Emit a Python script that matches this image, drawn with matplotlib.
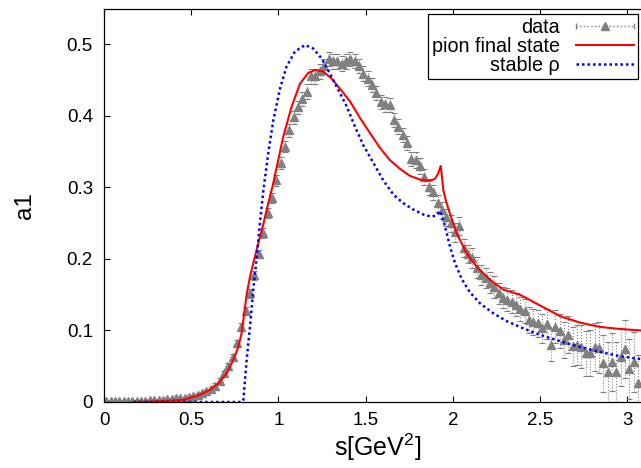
import matplotlib
matplotlib.use("Agg")
import matplotlib.pyplot as plt
from matplotlib.legend_handler import HandlerBase
from matplotlib.lines import Line2D
from matplotlib.ticker import FormatStrFormatter
import numpy as np

plt.rcParams.update({
    "font.family": ["Liberation Sans", "DejaVu Sans"],
    "mathtext.fontset": "custom",
    "mathtext.rm": "Liberation Sans",
    "mathtext.default": "regular",
    "xtick.direction": "in",
    "ytick.direction": "in",
    "xtick.top": True,
    "ytick.right": True,
})

GREY = "#808080"
RED = "#ff0000"
BLUE = "#0000ff"

# ---- measured spectral function (bins of 0.025 GeV^2) ----
s_data = np.arange(123) * 0.025 + 0.0125
a1_data = [
    0.002, 0.002, 0.002, 0.002, 0.002, 0.002, 0.002, 0.002, 0.002, 0.002,
    0.003, 0.003, 0.003, 0.003, 0.004, 0.004, 0.005, 0.005, 0.006, 0.007,
    0.008, 0.010, 0.012, 0.015, 0.018, 0.023, 0.030, 0.040, 0.051, 0.063,
    0.082, 0.105, 0.127, 0.152, 0.177, 0.207, 0.236, 0.264, 0.285, 0.310,
    0.334, 0.357, 0.380, 0.398, 0.412, 0.424, 0.434, 0.455, 0.455, 0.462,
    0.469, 0.479, 0.476, 0.476, 0.473, 0.476, 0.479, 0.477, 0.470, 0.459,
    0.452, 0.443, 0.432, 0.419, 0.416, 0.415, 0.394, 0.385, 0.373, 0.362,
    0.340, 0.338, 0.330, 0.315, 0.301, 0.293, 0.278, 0.268, 0.258, 0.250,
    0.237, 0.246, 0.215, 0.207, 0.201, 0.188, 0.178, 0.173, 0.167, 0.161,
    0.152, 0.146, 0.143, 0.140, 0.136, 0.130, 0.127, 0.115, 0.112, 0.110,
    0.103, 0.109, 0.080, 0.105, 0.099, 0.087, 0.094, 0.078, 0.080, 0.077,
    0.068, 0.069, 0.077, 0.076, 0.054, 0.042, 0.056, 0.042, 0.063, 0.074,
    0.046, 0.056, 0.026,
]
a1_err = [
    0.001, 0.001, 0.001, 0.001, 0.001, 0.001, 0.001, 0.001, 0.001, 0.001,
    0.001, 0.001, 0.001, 0.001, 0.001, 0.001, 0.001, 0.001, 0.001, 0.001,
    0.002, 0.002, 0.002, 0.002, 0.003, 0.003, 0.003, 0.004, 0.004, 0.004,
    0.005, 0.005, 0.006, 0.006, 0.006, 0.006, 0.007, 0.007, 0.007, 0.008,
    0.008, 0.008, 0.009, 0.009, 0.009, 0.010, 0.010, 0.010, 0.010, 0.010,
    0.010, 0.010, 0.010, 0.010, 0.010, 0.010, 0.010, 0.010, 0.010, 0.010,
    0.010, 0.010, 0.010, 0.010, 0.010, 0.010, 0.010, 0.010, 0.010, 0.010,
    0.010, 0.011, 0.011, 0.011, 0.011, 0.011, 0.012, 0.012, 0.012, 0.012,
    0.013, 0.013, 0.013, 0.013, 0.014, 0.014, 0.014, 0.014, 0.015, 0.015,
    0.015, 0.015, 0.016, 0.016, 0.016, 0.017, 0.017, 0.018, 0.018, 0.019,
    0.020, 0.021, 0.022, 0.023, 0.024, 0.025, 0.026, 0.027, 0.028, 0.030,
    0.031, 0.032, 0.034, 0.036, 0.040, 0.042, 0.040, 0.042, 0.040, 0.040,
    0.042, 0.042, 0.040,
]

# ---- model: pion final state ----
s_pion = [
    0.17, 0.25, 0.35, 0.455, 0.55, 0.608, 0.656, 0.703, 0.742, 0.770,
    0.789, 0.803, 0.818, 0.837, 0.860, 0.885, 0.913, 0.942, 0.968, 1.028,
    1.076, 1.124, 1.171, 1.210, 1.257, 1.305, 1.353, 1.411, 1.468, 1.525,
    1.583, 1.640, 1.697, 1.755, 1.812, 1.869, 1.898, 1.915, 1.931, 1.946,
    1.961, 1.984, 2.022, 2.079, 2.137, 2.213, 2.290, 2.385, 2.500, 2.615,
    2.729, 2.844, 2.959, 3.079, 3.140,
]
a1_pion = [
    0.000, 0.0005, 0.0015, 0.003, 0.010, 0.017, 0.026, 0.040, 0.059, 0.077,
    0.096, 0.122, 0.150, 0.175, 0.198, 0.222, 0.248, 0.278, 0.303, 0.371,
    0.413, 0.445, 0.460, 0.464, 0.462, 0.452, 0.438, 0.420, 0.397, 0.376,
    0.355, 0.338, 0.326, 0.316, 0.311, 0.309, 0.312, 0.319, 0.330, 0.296,
    0.281, 0.263, 0.236, 0.208, 0.189, 0.171, 0.157, 0.150, 0.135, 0.120,
    0.111, 0.105, 0.102, 0.100, 0.099,
]

# ---- model: stable rho ----
s_rho = [
    0.17, 0.79, 0.799, 0.818, 0.837, 0.856, 0.876, 0.894, 0.913, 0.942,
    0.971, 1.009, 1.047, 1.095, 1.153, 1.200, 1.248, 1.296, 1.344, 1.392,
    1.439, 1.487, 1.545, 1.601, 1.659, 1.716, 1.774, 1.831, 1.879, 1.905,
    1.927, 1.946, 1.965, 1.984, 2.013, 2.051, 2.099, 2.156, 2.232, 2.309,
    2.404, 2.500, 2.615, 2.729, 2.844, 2.959, 3.079, 3.140,
]
a1_rho = [
    0.000, 0.000, 0.003, 0.059, 0.105, 0.157, 0.203, 0.250, 0.294, 0.348,
    0.394, 0.438, 0.469, 0.490, 0.499, 0.494, 0.480, 0.459, 0.436, 0.413,
    0.385, 0.359, 0.334, 0.310, 0.290, 0.278, 0.269, 0.262, 0.259, 0.261,
    0.267, 0.254, 0.236, 0.217, 0.194, 0.172, 0.153, 0.138, 0.124, 0.113,
    0.103, 0.094, 0.085, 0.077, 0.070, 0.064, 0.060, 0.058,
]

x_ticks = [0, 0.5, 1, 1.5, 2, 2.5, 3]
y_ticks = [0, 0.1, 0.2, 0.3, 0.4, 0.5]


class DataHandler(HandlerBase):
    """gnuplot-like key sample: dotted line, end caps, triangle in middle."""

    def create_artists(self, legend, orig, xd, yd, w, h, fs, trans):
        y = h / 2 - yd
        x0, x1 = -xd, -xd + w
        line = Line2D([x0, x1], [y, y], ls=":", lw=1.0, color=GREY,
                      transform=trans)
        caps = Line2D([x0, x1], [y, y], ls="none", marker="|", ms=5,
                      mew=1.0, color=GREY, transform=trans)
        tri = Line2D([(x0 + x1) / 2], [y], ls="none", marker="^", ms=5.5,
                     color=GREY, transform=trans)
        return [line, caps, tri]


fig = plt.figure(figsize=(6.41, 4.68), dpi=100)
xmax, ymax = 3.14, 0.55
ax = fig.add_axes([104 / 641, 66 / 468, xmax * 174.4 / 641, ymax * 715.4 / 468])

eb = ax.errorbar(s_data, a1_data, yerr=a1_err, fmt="^", color=GREY,
                 ms=5.5, mec=GREY, ecolor=GREY, elinewidth=0.8,
                 capsize=2.2, capthick=0.8, zorder=2)
for col in eb[2]:
    col.set_linestyle(":")

ax.plot(s_pion, a1_pion, color=RED, lw=1.5, zorder=3)
ax.plot(s_rho, a1_rho, color=BLUE, lw=1.8, ls=(0, (1, 1.2)), zorder=4)

ax.set_xlim(0, xmax)
ax.set_ylim(0, ymax)
ax.set_xticks(x_ticks)
ax.set_yticks(y_ticks)
ax.xaxis.set_major_formatter(FormatStrFormatter("%g"))
ax.yaxis.set_major_formatter(FormatStrFormatter("%g"))
ax.tick_params(length=4.3, width=0.8, labelsize=13.5)
ax.tick_params(axis="x", pad=7)
ax.tick_params(axis="y", pad=8)
for sp in ax.spines.values():
    sp.set_linewidth(0.9)

ax.set_xlabel("s[GeV$^2$]", fontsize=18, labelpad=2)
ax.set_ylabel("a1", fontsize=17.5, labelpad=22)

handles = [
    Line2D([], []),
    Line2D([], [], color=RED, lw=1.5),
    Line2D([], [], color=BLUE, lw=1.8, ls=(0, (1, 1.2))),
]
labels = ["data", "pion final state", "stable \u03c1"]
leg = ax.legend(handles, labels, handler_map={handles[0]: DataHandler()},
                loc="upper right", bbox_to_anchor=(637.6 / 641, 454 / 468),
                bbox_transform=fig.transFigure, borderaxespad=0,
                markerfirst=False, fontsize=14.2, handlelength=2.9,
                handletextpad=0.85, labelspacing=0.0, borderpad=0.2,
                fancybox=False, framealpha=1, edgecolor="black")
leg.get_frame().set_linewidth(0.9)

fig.savefig("out.png", dpi=100)
